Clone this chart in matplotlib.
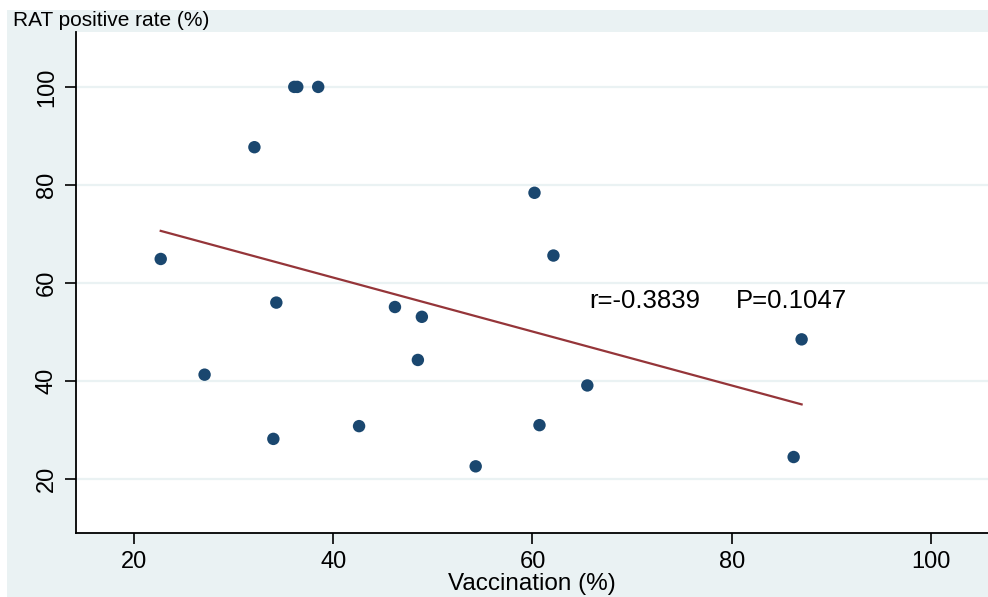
import numpy as np
import matplotlib
matplotlib.use("Agg")
import matplotlib.pyplot as plt
from matplotlib.patches import Rectangle

plt.rcParams['font.family'] = ['Liberation Sans', 'DejaVu Sans']

# 讀圖估計的資料
vaccination = [22.7, 27.1, 32.1, 34.0, 34.3, 36.1, 36.4, 38.5, 42.6, 46.2,
               48.5, 48.9, 54.3, 60.2, 60.7, 62.1, 65.5, 86.2, 87.0]
rat_rate = [64.9, 41.3, 87.7, 28.2, 56.0, 100.0, 100.0, 100.0, 30.8, 55.1,
            44.3, 53.1, 22.6, 78.4, 31.0, 65.6, 39.1, 24.5, 48.5]
r_text = "r=-0.3839"
p_text = "P=0.1047"
yticks = [20, 40, 60, 80, 100]
xticks = [20, 40, 60, 80, 100]

bg = "#EAF2F3"
navy = "#1A476F"
maroon = "#953539"

fig = plt.figure(figsize=(9.88, 5.97), dpi=100)
fig.patch.set_facecolor("white")
fig.patches.append(Rectangle((7 / 988, 0), 1, 1 - 10 / 597, transform=fig.transFigure,
                             facecolor=bg, edgecolor="none", zorder=-10))

ax = fig.add_axes([76 / 988, 64 / 597, 1 - 76 / 988, (533 - 32) / 597])
ax.set_facecolor("white")

# 散佈圖
ax.scatter(vaccination, rat_rate, s=80, color=navy, edgecolors="none", zorder=3)

# 線性回歸線
x = np.array(vaccination)
slope, intercept = np.polyfit(x, rat_rate, 1)
xs = np.array([x.min(), x.max()])
ax.plot(xs, intercept + slope * xs, color=maroon, lw=1.6, zorder=2)

ax.text(65.7, 55, r_text, fontsize=18.5, va="baseline", ha="left")
ax.text(80.4, 55, p_text, fontsize=18.5, va="baseline", ha="left")

ax.set_xlim(14.2, 105.7)
ax.set_ylim(9.0, 111.2)
ax.set_xticks(xticks)
ax.set_yticks(yticks)
ax.yaxis.grid(True, color=bg, lw=1.6, zorder=0)
ax.set_axisbelow(True)
for s in ["top", "right"]:
    ax.spines[s].set_visible(False)
for s in ["left", "bottom"]:
    ax.spines[s].set_linewidth(1.3)
ax.tick_params(axis="both", length=8, width=1.2, labelsize=17, pad=5)
plt.setp(ax.get_yticklabels(), rotation=90, va="center")

ax.set_xlabel("Vaccination (%)", fontsize=17.5, labelpad=0)
fig.text(13 / 988, 1 - 26 / 597, "RAT positive rate (%)", fontsize=15, va="baseline", ha="left")

fig.savefig("out.png", dpi=100)
